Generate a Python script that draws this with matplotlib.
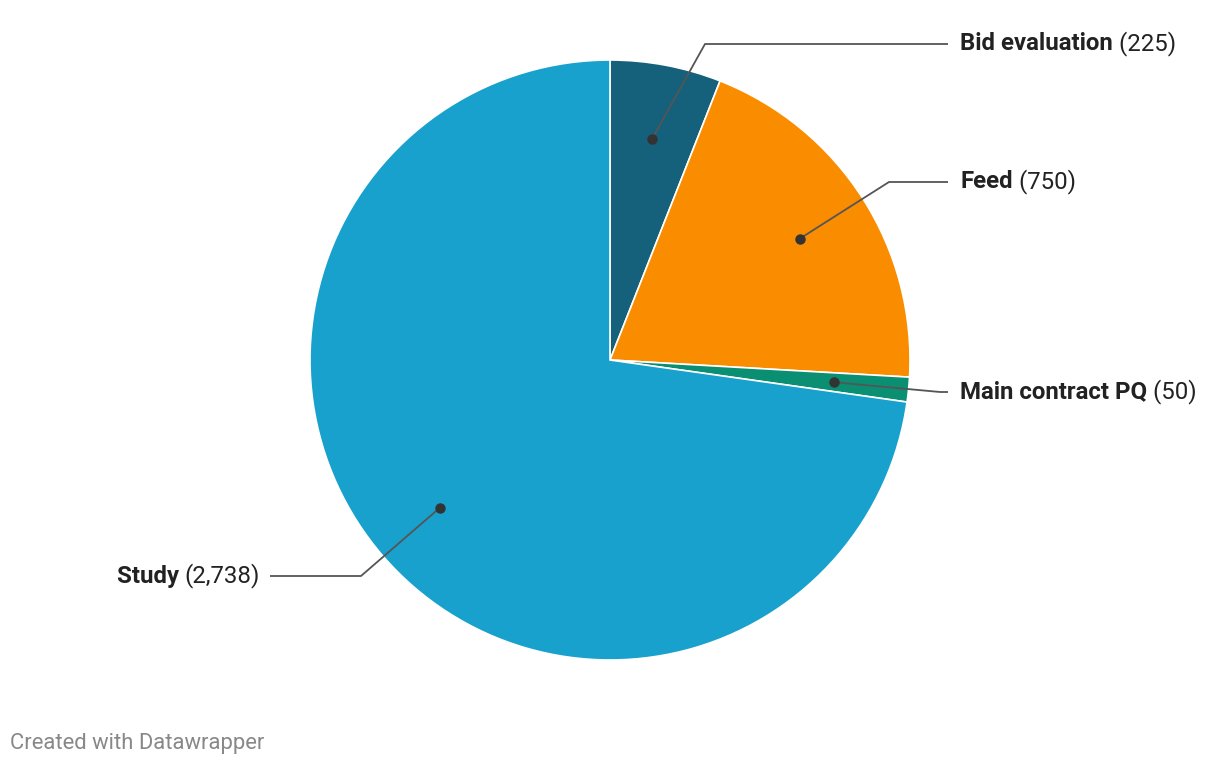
import matplotlib
matplotlib.use("Agg")
import matplotlib.pyplot as plt
import numpy as np

categories = ["Bid evaluation", "Feed", "Main contract PQ", "Study"]
values = [225, 750, 50, 2738]
value_labels = ["225", "750", "50", "2,738"]
colors = ["#15607a", "#fa8c00", "#0a8f73", "#18a1cd"]

W, H = 1220, 766
fig = plt.figure(figsize=(W / 100, H / 100), dpi=100)
ax = fig.add_axes([0, 0, 1, 1])
ax.set_xlim(0, W)
ax.set_ylim(0, H)
ax.set_aspect("equal")
ax.axis("off")

cx, cy, R = 610, H - 360, 300
wedges, _ = ax.pie(values, colors=colors, startangle=90, counterclock=False,
                   center=(cx, cy), radius=R, frame=True,
                   wedgeprops=dict(edgecolor="white", linewidth=1.2))
ax.set_xlim(0, W)
ax.set_ylim(0, H)
ax.axis("off")

# label layout: (label y in px from top, elbow x, line end x, text x, side)
layout = {
    "Bid evaluation": (44, 705, 948, 960, "right"),
    "Feed": (182, 889, 948, 960, "right"),
    "Main contract PQ": (392, 940, 948, 960, "right"),
    "Study": (576, 361, 270, 260, "left"),
}

fs = 17.3
for w, cat, vl in zip(wedges, categories, value_labels):
    mid = np.deg2rad((w.theta1 + w.theta2) / 2)
    dx = cx + 0.75 * R * np.cos(mid)
    dy = cy + 0.75 * R * np.sin(mid)
    ly, ex, lx, tx, side = layout[cat]
    ly = H - ly
    ax.plot([dx, ex, lx], [dy, ly, ly], color="#555555", lw=1.3,
            solid_capstyle="butt", zorder=5)
    ax.plot([dx], [dy], "o", color="#333333", ms=6.5, zorder=6)
    if side == "right":
        t = ax.text(tx, ly, cat, fontfamily="Roboto", fontweight="bold",
                    fontsize=fs, color="#222222", ha="left", va="center")
        ax.annotate(" (" + vl + ")", xycoords=t, xy=(1, 0.5), va="center",
                    ha="left", fontfamily="Roboto", fontsize=fs,
                    color="#222222")
    else:
        t = ax.text(tx, ly, "(" + vl + ")", fontfamily="Roboto",
                    fontsize=fs, color="#222222", ha="right", va="center")
        ax.annotate(cat + " ", xycoords=t, xy=(0, 0.5), va="center",
                    ha="right", fontfamily="Roboto", fontweight="bold",
                    fontsize=fs, color="#222222")

fig.text(10 / W, 1 - 743 / H, "Created with Datawrapper", fontfamily="Roboto",
         fontsize=15.8, color="#888888", ha="left", va="center")

fig.savefig("out.png", dpi=100, facecolor="white")
